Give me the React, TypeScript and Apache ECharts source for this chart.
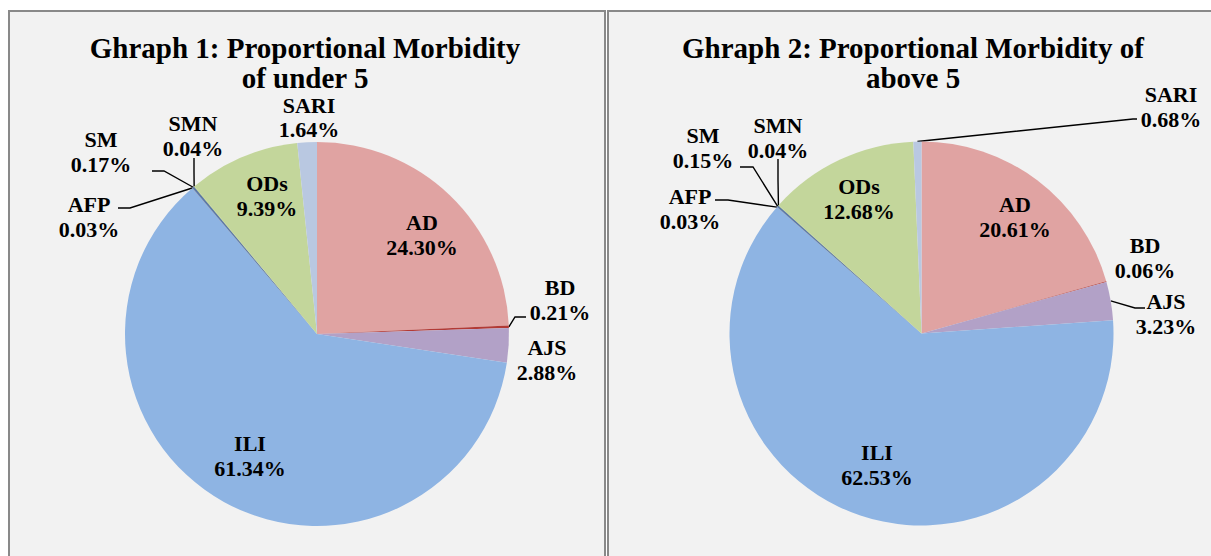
import React, { useEffect, useRef } from "react";
import * as echarts from "echarts";

const categories = ["AD", "BD", "AJS", "ILI", "AFP", "SM", "SMN", "ODs", "SARI"];
const under5Values = [24.3, 0.21, 2.88, 61.34, 0.03, 0.17, 0.04, 9.39, 1.64];
const above5Values = [20.61, 0.06, 3.23, 62.53, 0.03, 0.15, 0.04, 12.68, 0.68];
const sliceColors = ["#e0a3a2", "#b23a36", "#b2a1c7", "#8eb4e3", "#6f87ad", "#5b78a8", "#9bbb59", "#c3d69b", "#b9c8e1"];
const titles = [
  "Ghraph 1: Proportional Morbidity\nof under 5",
  "Ghraph 2: Proportional Morbidity of\nabove 5",
];

// label placement (label centre, and leader-line bends) for each chart
type Place = { x: number; y: number; line?: number[][]; lh?: number };
const layout1: Record<string, Place> = {
  AD: { x: 422, y: 235 },
  BD: { x: 560, y: 300, line: [[515, 317], [526, 317]] },
  AJS: { x: 547, y: 360 },
  ILI: { x: 250, y: 456 },
  AFP: { x: 89, y: 217, line: [[130, 208], [118, 208]] },
  SM: { x: 101, y: 152, line: [[164, 171], [152, 171]] },
  SMN: { x: 193, y: 136, line: [[194, 172], [194, 158]] },
  ODs: { x: 267, y: 196 },
  SARI: { x: 309, y: 117, lh: 24 },
};
const layout2: Record<string, Place> = {
  AD: { x: 1015, y: 217 },
  BD: { x: 1145, y: 258 },
  AJS: { x: 1166, y: 314, line: [[1135, 308], [1145, 308]] },
  ILI: { x: 877, y: 465 },
  AFP: { x: 690, y: 209, line: [[728, 200], [715, 200]] },
  SM: { x: 703, y: 148, line: [[753, 167], [740, 167]] },
  SMN: { x: 778, y: 138, line: [[778, 180], [778, 159]] },
  ODs: { x: 859, y: 199 },
  SARI: { x: 1171, y: 107, line: [[1133, 119], [1137, 119]] },
};

const FONT = "'Liberation Serif', 'Times New Roman', serif";

function buildSeries(values: number[], center: number[], place: Record<string, Place>) {
  return {
    type: "pie",
    center,
    radius: 192,
    startAngle: 90,
    clockwise: true,
    avoidLabelOverlap: false,
    minShowLabelAngle: 0,
    data: categories.map((name, i) => ({
      name,
      value: values[i],
      itemStyle: { color: sliceColors[i] },
      labelLine: { show: !!place[name].line },
      label: { lineHeight: place[name].lh ?? 25 },
    })),
    label: {
      show: true,
      position: "outside",
      formatter: (p: any) => `${p.name}\n${Number(p.value).toFixed(2)}%`,
      fontFamily: FONT,
      fontWeight: "bold",
      fontSize: 22,
      lineHeight: 25,
      color: "#000",
      align: "center",
    },
    labelLine: { show: true, lineStyle: { color: "#000", width: 1.4 } },
    labelLayout: (params: any) => {
      const name = categories[params.dataIndex];
      const pl = place[name];
      const res: any = { x: pl.x, y: pl.y, align: "center", verticalAlign: "middle" };
      if (pl.line && params.labelLinePoints) {
        const anchor = params.labelLinePoints[0];
        res.labelLinePoints = [anchor, pl.line[0], pl.line[1]];
      }
      return res;
    },
  };
}

export default function App() {
  const ref = useRef<HTMLDivElement>(null);
  useEffect(() => {
    if (!ref.current) return;
    const chart = echarts.init(ref.current, null, { renderer: "svg" });
    const titleStyle = { fontFamily: FONT, fontWeight: "bold", fontSize: 29, lineHeight: 30, color: "#000" };
    chart.setOption({
      animation: false,
      backgroundColor: "#ffffff",
      graphic: [
        { type: "rect", z: -10, shape: { x: 9, y: 11, width: 596, height: 600 }, style: { fill: "#f2f2f2", stroke: "#898989", lineWidth: 2 } },
        { type: "rect", z: -10, shape: { x: 608, y: 11, width: 650, height: 600 }, style: { fill: "#f2f2f2", stroke: "#898989", lineWidth: 2 } },
      ],
      title: [
        { text: titles[0], left: 305, top: 33, textAlign: "center", padding: 0, textStyle: titleStyle },
        { text: titles[1], left: 913, top: 33, textAlign: "center", padding: 0, textStyle: titleStyle },
      ],
      series: [
        buildSeries(under5Values, [317, 334], layout1),
        buildSeries(above5Values, [921.5, 333.5], layout2),
      ],
    });
    return () => chart.dispose();
  }, []);
  return <div ref={ref} style={{ position: "absolute", left: 0, top: 0, width: 1211, height: 556 }} />;
}
